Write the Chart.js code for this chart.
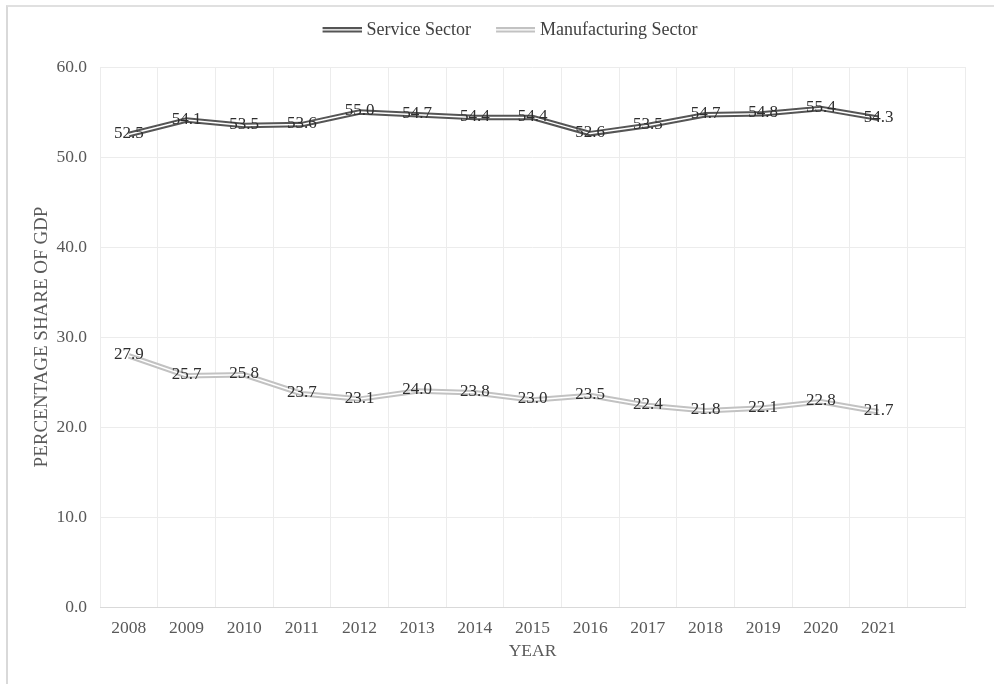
<!DOCTYPE html>
<html>
<head>
<meta charset="utf-8">
<script src="https://cdn.jsdelivr.net/npm/chart.js@4.4.0/dist/chart.umd.min.js"></script>
<style>
html,body{margin:0;padding:0;background:#fff;overflow:hidden;}
#wrap{position:relative;width:994px;height:684px;}
#frame{position:absolute;left:6px;top:5px;width:1000px;height:700px;border-left:2px solid #d9d9d9;border-top:2px solid #e0e0e0;pointer-events:none;}
canvas{position:absolute;left:0;top:0;}
</style>
</head>
<body>
<div id="wrap">
<canvas id="c" width="994" height="684"></canvas>
<div id="frame"></div>
</div>
<script>
const years = ["2008","2009","2010","2011","2012","2013","2014","2015","2016","2017","2018","2019","2020","2021",""];
const serviceSector = [52.5,54.1,53.5,53.6,55.0,54.7,54.4,54.4,52.6,53.5,54.7,54.8,55.4,54.3];
const manufacturingSector = [27.9,25.7,25.8,23.7,23.1,24.0,23.8,23.0,23.5,22.4,21.8,22.1,22.8,21.7];
const seriesNames = ["Service Sector","Manufacturing Sector"];

const serviceColor = '#555555';
const manuColor = '#c2c2c2';
const serif = "'Liberation Serif', 'DejaVu Serif', serif";

function legendIcon(color){
  const cv = document.createElement('canvas');
  cv.width = 48; cv.height = 8;
  const g = cv.getContext('2d');
  g.fillStyle = color;
  g.fillRect(9,1,39,5.5);
  g.fillStyle = '#fff';
  g.fillRect(9,3.2,39,1.3);
  return cv;
}
const icons = [legendIcon(serviceColor), legendIcon(manuColor)];

const labelPlugin = {
  id:'dlabels',
  beforeLayout(chart){
    const lg = chart.legend;
    if (lg && !lg._patched){
      const f = lg.fit.bind(lg);
      lg.fit = function(){ f(); this.height = 66; };
      const d = lg.draw.bind(lg);
      lg.draw = function(){ const c = this.ctx; c.save(); c.translate(25,0); d(); c.restore(); };
      lg._patched = true;
    }
  },
  afterDatasetsDraw(chart){
    const ctx = chart.ctx;
    ctx.save();
    ctx.font = "17px " + serif;
    ctx.fillStyle = '#2e2e2e';
    ctx.textAlign = 'center';
    ctx.textBaseline = 'middle';
    [0,2].forEach(di=>{
      const meta = chart.getDatasetMeta(di);
      const data = chart.data.datasets[di].data;
      meta.data.forEach((pt,i)=>{
        if (data[i] == null) return;
        ctx.fillText(data[i].toFixed(1), pt.x, pt.y - 1);
      });
    });
    ctx.restore();
  }
};

new Chart(document.getElementById('c'), {
  type:'line',
  data:{
    labels: years,
    datasets:[
      {label:seriesNames[0], data:serviceSector, borderColor:serviceColor, borderWidth:5.5, pointRadius:0, fill:false, tension:0, pointStyle:icons[0], order:1},
      {label:'_inner1', data:serviceSector, borderColor:'#ffffff', borderWidth:1.5, pointRadius:0, fill:false, tension:0, order:0},
      {label:seriesNames[1], data:manufacturingSector, borderColor:manuColor, borderWidth:5.5, pointRadius:0, fill:false, tension:0, pointStyle:icons[1], order:1},
      {label:'_inner2', data:manufacturingSector, borderColor:'#ffffff', borderWidth:1.5, pointRadius:0, fill:false, tension:0, order:0}
    ]
  },
  options:{
    responsive:false,
    animation:false,
    devicePixelRatio:1,
    layout:{padding:{left:0,right:29,top:1,bottom:0}},
    plugins:{
      tooltip:{enabled:false},
      legend:{
        position:'top',
        labels:{
          filter:(item)=>!item.text.startsWith('_'),
          sort:(a,b)=>a.datasetIndex-b.datasetIndex,
          usePointStyle:true,
          pointStyleWidth:40,
          boxHeight:8,
          font:{family:serif,size:18},
          color:'#404040',
          padding:20
        }
      }
    },
    scales:{
      x:{
        offset:true,
        grid:{offset:true,color:'#ececec',drawTicks:false},
        border:{color:'#d9d9d9'},
        ticks:{font:{family:serif,size:17.5},color:'#595959',padding:11,maxRotation:0,autoSkip:false},
        title:{display:true,text:'YEAR',font:{family:serif,size:17.5},color:'#595959',padding:{top:2,bottom:22}},
        afterFit(s){ s.height = 77; }
      },
      y:{
        min:0,max:60,
        ticks:{stepSize:10,callback:v=>v.toFixed(1),font:{family:serif,size:17.5},color:'#595959',padding:13},
        grid:{color:'#ececec',drawTicks:false},
        border:{display:false},
        title:{display:true,text:'PERCENTAGE SHARE OF GDP',font:{family:serif,size:19},color:'#595959',padding:{top:31,bottom:0}},
        afterFit(s){ s.width = 100; }
      }
    }
  },
  plugins:[labelPlugin]
});
</script>
</body>
</html>
